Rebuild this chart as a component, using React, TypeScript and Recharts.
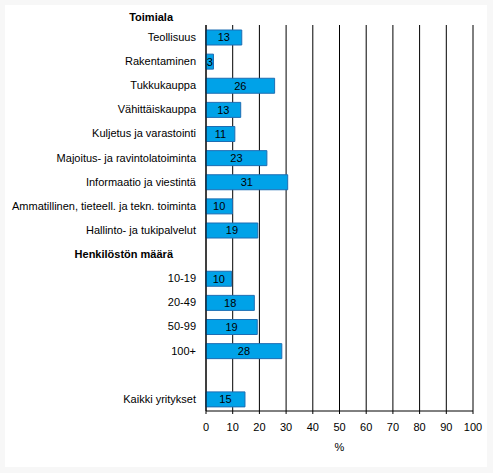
import { BarChart, Bar, XAxis, YAxis, CartesianGrid, LabelList } from 'recharts';

const categories = [
  'Teollisuus',
  'Rakentaminen',
  'Tukkukauppa',
  'Vähittäiskauppa',
  'Kuljetus ja varastointi',
  'Majoitus- ja ravintolatoiminta',
  'Informaatio ja viestintä',
  'Ammatillinen, tieteell. ja tekn. toiminta',
  'Hallinto- ja tukipalvelut',
  'Henkilöstön määrä',
  '10-19',
  '20-49',
  '50-99',
  '100+',
  '',
  'Kaikki yritykset',
];

// null = heading or spacer row
const values: (number | null)[] = [13.4, 2.8, 25.7, 13.0, 10.8, 22.8, 30.6, 9.9, 19.4, null, 9.6, 18.1, 19.2, 28.4, null, 14.6];

const headings = ['Henkilöstön määrä'];
const topHeading = 'Toimiala';
const xTicks = [0, 10, 20, 30, 40, 50, 60, 70, 80, 90, 100];

const data = categories.map((name, i) => ({ name, value: values[i] }));

const font = '"Liberation Sans", Arial, sans-serif';

function CategoryTick(props: any) {
  const { x, y, payload } = props;
  const isHeading = headings.includes(payload.value);
  return (
    <text
      x={isHeading ? x - 23 : x}
      y={y}
      dy="0.355em"
      textAnchor="end"
      fontSize={11}
      fontFamily={font}
      fontWeight={isHeading ? 'bold' : 'normal'}
      fill="#000"
    >
      {payload.value}
    </text>
  );
}

export default function App() {
  return (
    <div style={{ position: 'absolute', left: 0, top: 0, width: 493, height: 473, background: '#f7f7f7' }}>
      <div style={{ position: 'absolute', left: 5, top: 5, width: 482, height: 462, background: '#fff' }} />
      <div
        style={{
          position: 'absolute',
          right: 493 - 173,
          top: 11,
          fontFamily: font,
          fontSize: 11,
          fontWeight: 'bold',
          lineHeight: '13px',
        }}
      >
        {topHeading}
      </div>
      <div style={{ position: 'absolute', left: 0, top: 0 }}>
        <BarChart
          width={493}
          height={473}
          data={data}
          layout="vertical"
          margin={{ top: 25, right: 20, bottom: 0, left: 0 }}
          barCategoryGap={9}
        >
          <CartesianGrid horizontal={false} stroke="#000" strokeWidth={1} />
          <XAxis
            type="number"
            domain={[0, 100]}
            ticks={xTicks}
            interval={0}
            height={62}
            tickSize={3}
            tickMargin={9}
            axisLine={{ stroke: '#000' }}
            tickLine={{ stroke: '#000' }}
            tick={{ fill: '#000', fontSize: 11, fontFamily: font }}
            label={{ value: '%', position: 'insideBottom', offset: 22, fill: '#000', fontSize: 11, fontFamily: font }}
          />
          <XAxis
            xAxisId="top"
            type="number"
            orientation="top"
            domain={[0, 100]}
            height={0}
            tick={false}
            tickLine={false}
            axisLine={{ stroke: '#000' }}
          />
          <YAxis
            type="category"
            dataKey="name"
            width={206}
            interval={0}
            tickSize={0}
            tickMargin={10}
            tickLine={false}
            axisLine={{ stroke: '#000' }}
            tick={<CategoryTick />}
          />
          <Bar dataKey="value" fill="#00a2e8" stroke="#1d6db3" strokeWidth={1} barSize={15} isAnimationActive={false}>
            <LabelList
              dataKey="value"
              position="center"
              fill="#000"
              fontSize={11}
              fontFamily={font}
              formatter={(v: any) => (v == null ? '' : Math.round(v))}
            />
          </Bar>
        </BarChart>
      </div>
    </div>
  );
}
